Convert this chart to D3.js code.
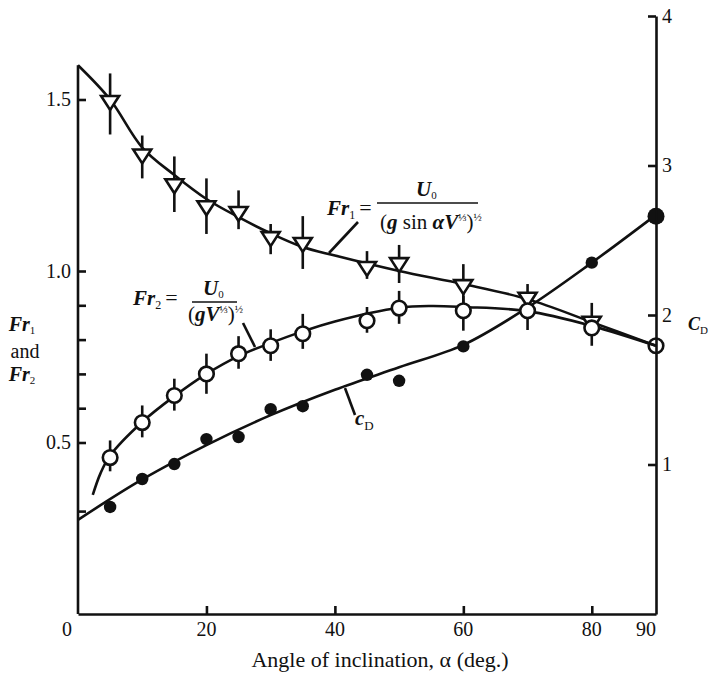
<!DOCTYPE html>
<html>
<head>
<meta charset="utf-8">
<script src="https://cdn.jsdelivr.net/npm/d3@7"></script>
<style>
  body { margin: 0; background: #fff; }
  svg { display: block; }
  text { font-family: "Liberation Serif", "DejaVu Serif", serif; fill: #111; }
</style>
</head>
<body>
<div id="chart"></div>
<script>
(function() {
    'use strict';

    // Fr1 points (open down triangles) with error bars
    var fr1Angle = [5, 10, 15, 20, 25, 30, 35, 45, 50, 60, 70, 80];
    var fr1Value = [1.49, 1.334, 1.247, 1.183, 1.166, 1.093, 1.076, 1.006, 1.017, 0.953, 0.916, 0.846];
    var fr1Hi    = [1.576, 1.395, 1.334, 1.27, 1.235, 1.137, 1.16, 1.058, 1.076, 1.02, 0.962, 0.907];
    var fr1Lo    = [1.398, 1.27, 1.172, 1.108, 1.122, 1.049, 1.006, 0.977, 0.965, 0.904, 0.916, 0.846];

    // Fr2 points (open circles) with error bars
    var fr2Angle = [5, 10, 15, 20, 25, 30, 35, 45, 50, 60, 70, 80, 90];
    var fr2Value = [0.456, 0.558, 0.637, 0.70, 0.759, 0.782, 0.817, 0.855, 0.892, 0.884, 0.884, 0.834, 0.782];
    var fr2Hi    = [0.506, 0.608, 0.686, 0.759, 0.81, 0.83, 0.875, 0.895, 0.942, 0.927, 0.884, 0.834, 0.782];
    var fr2Lo    = [0.416, 0.515, 0.593, 0.642, 0.715, 0.738, 0.773, 0.82, 0.846, 0.826, 0.828, 0.782, 0.782];

    // drag coefficient points (filled dots), right axis
    var cdAngle = [5, 10, 15, 20, 25, 30, 35, 45, 50, 60, 80, 90];
    var cdValue = [0.716, 0.903, 1.003, 1.17, 1.184, 1.37, 1.39, 1.60, 1.56, 1.79, 2.35, 2.66];

    // hand drawn fit curves
    var fr1FitAngle = [0, 5, 10, 15, 20, 25, 30, 35, 40, 50, 60, 70, 80, 90];
    var fr1Fit      = [1.60, 1.50, 1.36, 1.28, 1.21, 1.157, 1.11, 1.07, 1.045, 1.0, 0.962, 0.918, 0.851, 0.782];
    var fr2FitAngle = [2.3, 3.5, 5, 10, 15, 20, 25, 30, 35, 40, 50, 55, 60, 70, 80, 90];
    var fr2Fit      = [0.347, 0.41, 0.462, 0.56, 0.635, 0.70, 0.752, 0.79, 0.824, 0.853, 0.893, 0.898, 0.895, 0.883, 0.84, 0.782];
    var cdFitAngle  = [0, 10, 20, 30, 40, 50, 60, 70, 80, 90];
    var cdFit       = [0.63, 0.90, 1.13, 1.33, 1.50, 1.65, 1.80, 2.05, 2.35, 2.67];

    var xTicks = [20, 40, 60, 80];
    var xTickLabels = [0, 20, 40, 60, 80, 90];
    var frTicks = [0.3, 0.5, 0.6, 0.7, 0.8, 0.9, 1.0, 1.5];
    var frTickLabels = [0.5, 1.0, 1.5];
    var cdTicks = [1, 2, 3, 4];

    var width = 715, height = 680;
    var strokeW = 2.6;

    var x = d3.scaleLinear().domain([0, 90]).range([78, 656]);
    var yFr = d3.scaleLinear().domain([0, 1.6]).range([614, 65.2]);
    var yCd = d3.scaleLinear().domain([0, 4]).range([614, 16]);

    var svg = d3.select("#chart").append("svg")
        .attr("width", width)
        .attr("height", height);

    function zip(a, b, c, d) {
        return a.map(function(v, i) {
            return {a: v, v: b[i], hi: c ? c[i] : null, lo: d ? d[i] : null};
        });
    }

    var fr1 = zip(fr1Angle, fr1Value, fr1Hi, fr1Lo);
    var fr2 = zip(fr2Angle, fr2Value, fr2Hi, fr2Lo);
    var cd = zip(cdAngle, cdValue);

    // error bars
    function errorBars(data, cls) {
        svg.append("g").attr("class", cls)
            .selectAll("line")
            .data(data.filter(d => d.hi > d.lo))
            .enter().append("line")
            .attr("x1", d => x(d.a))
            .attr("x2", d => x(d.a))
            .attr("y1", d => yFr(d.hi))
            .attr("y2", d => yFr(d.lo))
            .attr("stroke", "#111")
            .attr("stroke-width", strokeW);
    }
    errorBars(fr1, "err-fr1");
    errorBars(fr2, "err-fr2");

    // fit curves
    function fitLine(xs, ys, yScale) {
        var line = d3.line()
            .x(d => x(d[0]))
            .y(d => yScale(d[1]))
            .curve(d3.curveCatmullRom.alpha(0.5));
        svg.append("path")
            .datum(xs.map((v, i) => [v, ys[i]]))
            .attr("d", line)
            .attr("fill", "none")
            .attr("stroke", "#111")
            .attr("stroke-width", strokeW);
    }
    fitLine(fr1FitAngle, fr1Fit, yFr);
    fitLine(fr2FitAngle, fr2Fit, yFr);
    fitLine(cdFitAngle, cdFit, yCd);

    // axes
    var leftAxis = d3.axisLeft(yFr)
        .tickValues(frTicks)
        .tickSizeInner(-8)
        .tickSizeOuter(0)
        .tickPadding(7)
        .tickFormat(d => frTickLabels.indexOf(d) >= 0 ? d3.format(".1f")(d) : "");

    var bottomAxis = d3.axisBottom(x)
        .tickValues(xTicks)
        .tickSizeInner(-8)
        .tickSizeOuter(0)
        .tickFormat("");

    var rightAxis = d3.axisRight(yCd)
        .tickValues(cdTicks)
        .tickSizeInner(-8)
        .tickSizeOuter(0)
        .tickPadding(6)
        .tickFormat(d3.format("d"));

    var gl = svg.append("g")
        .attr("class", "y-axis")
        .attr("transform", "translate(" + x(0) + ",0)")
        .call(leftAxis);

    var gb = svg.append("g")
        .attr("class", "x-axis")
        .attr("transform", "translate(0," + yFr(0) + ")")
        .call(bottomAxis);

    svg.selectAll(".x-label")
        .data(xTickLabels)
        .enter().append("text")
        .attr("class", "x-label")
        .attr("x", d => x(d) + (d === 0 ? -11 : (d === 90 ? -10 : 0)))
        .attr("y", 636)
        .attr("text-anchor", "middle")
        .style("font-size", "20px")
        .text(d => d);

    [gl, gb].forEach(function(g) {
        g.select(".domain").attr("stroke", "#111").attr("stroke-width", strokeW);
        g.selectAll(".tick line").attr("stroke", "#111").attr("stroke-width", strokeW);
        g.selectAll(".tick text").style("font-size", "20px")
            .style("font-family", "Liberation Serif, serif").attr("fill", "#111");
    });
    gl.select(".domain").attr("d", "M0," + yFr(0) + "V" + yFr(1.6));

    // markers
    svg.append("g").selectAll("path")
        .data(fr1)
        .enter().append("path")
        .attr("transform", d => "translate(" + x(d.a) + "," + yFr(d.v) + ")")
        .attr("d", "M-9,-7L9,-7L0,7Z")
        .attr("fill", "#fff")
        .attr("stroke", "#111")
        .attr("stroke-width", strokeW)
        .attr("stroke-linejoin", "miter");

    svg.append("g").selectAll("circle")
        .data(fr2)
        .enter().append("circle")
        .attr("cx", d => x(d.a))
        .attr("cy", d => yFr(d.v))
        .attr("r", 7.3)
        .attr("fill", d => d.a === 90 ? "none" : "#fff")
        .attr("stroke", "#111")
        .attr("stroke-width", strokeW);

    svg.append("g").selectAll("circle")
        .data(cd)
        .enter().append("circle")
        .attr("cx", d => x(d.a))
        .attr("cy", d => yCd(d.v))
        .attr("r", d => d.a === 90 ? 8.5 : 6.2)
        .attr("fill", "#111");

    var gr = svg.append("g")
        .attr("class", "cd-axis")
        .attr("transform", "translate(" + x(90) + ",0)")
        .call(rightAxis);
    gr.select(".domain").attr("stroke", "#111").attr("stroke-width", strokeW);
    gr.selectAll(".tick line").attr("stroke", "#111").attr("stroke-width", strokeW);
    gr.selectAll(".tick text").style("font-size", "20px")
        .style("font-family", "Liberation Serif, serif").attr("fill", "#111");

    // axis titles
    svg.append("text")
        .attr("x", 380)
        .attr("y", 667)
        .attr("text-anchor", "middle")
        .style("font-size", "22px")
        .text("Angle of inclination, \u03b1 (deg.)");

    var lab = svg.append("text")
        .attr("text-anchor", "middle")
        .style("font-size", "20px");
    lab.append("tspan").attr("x", 22).attr("y", 331)
        .style("font-style", "italic").style("font-weight", "bold").text("Fr");
    lab.append("tspan").attr("dy", 3).style("font-size", "11px").text("1");
    svg.append("text")
        .attr("x", 25).attr("y", 358)
        .attr("text-anchor", "middle")
        .style("font-size", "20px")
        .text("and");
    var lab2 = svg.append("text")
        .attr("text-anchor", "middle")
        .style("font-size", "20px");
    lab2.append("tspan").attr("x", 22).attr("y", 381)
        .style("font-style", "italic").style("font-weight", "bold").text("Fr");
    lab2.append("tspan").attr("dy", 3).style("font-size", "11px").text("2");

    var cdLab = svg.append("text").attr("x", 688).attr("y", 330)
        .style("font-size", "18px");
    cdLab.append("tspan").style("font-style", "italic").style("font-weight", "bold").text("C");
    cdLab.append("tspan").attr("dy", 4).style("font-size", "11px").text("D");

    // leader lines to the curves
    var leaders = [[329, 253, 358, 222], [243, 323, 255, 347], [345, 388, 355, 415]];
    svg.selectAll(".leader")
        .data(leaders)
        .enter().append("line")
        .attr("class", "leader")
        .attr("x1", d => d[0]).attr("y1", d => d[1])
        .attr("x2", d => d[2]).attr("y2", d => d[3])
        .attr("stroke", "#111")
        .attr("stroke-width", strokeW);

    function frac(x0, base, sub, xBar1, xBar2, yBar, xU, yU, xDen, yDen, denom) {
        var t = svg.append("text").attr("x", x0).attr("y", base).style("font-size", "21px");
        t.append("tspan").style("font-style", "italic").style("font-weight", "bold").text("Fr");
        t.append("tspan").attr("dy", 4).style("font-size", "12px").text(sub);
        t.append("tspan").attr("dy", -4).attr("dx", 4).style("font-size", "22px").text("=");

        svg.append("line")
            .attr("x1", xBar1).attr("x2", xBar2)
            .attr("y1", yBar).attr("y2", yBar)
            .attr("stroke", "#111").attr("stroke-width", 1.6);

        var u = svg.append("text").attr("x", xU).attr("y", yU).style("font-size", "21px");
        u.append("tspan").style("font-style", "italic").style("font-weight", "bold").text("U");
        u.append("tspan").attr("dy", 3).style("font-size", "11px").text("0");

        var dn = svg.append("text").attr("x", xDen).attr("y", yDen).style("font-size", "21px");
        denom.forEach(function(p) {
            var s = dn.append("tspan").text(p.t);
            if (p.it) s.style("font-style", "italic").style("font-weight", "bold");
            if (p.sup) s.style("font-size", "11px").attr("dy", p.dy);
            else if (p.dy) s.attr("dy", p.dy);
        });
    }

    frac(327, 215, "1", 377, 478, 203, 416, 196, 380, 229, [
        {t: "("}, {t: "g", it: true}, {t: " sin "}, {t: "\u03b1", it: true}, {t: "V", it: true},
        {t: "\u2153", sup: true, dy: -8}, {t: ")", dy: 8}, {t: "\u00bd", sup: true, dy: -8}
    ]);
    frac(133, 305, "2", 192, 237, 302, 203, 295, 188, 321, [
        {t: "("}, {t: "g", it: true}, {t: "V", it: true},
        {t: "\u2153", sup: true, dy: -8}, {t: ")", dy: 8}, {t: "\u00bd", sup: true, dy: -8}
    ]);

    var cdt = svg.append("text").attr("x", 355).attr("y", 425).style("font-size", "21px");
    cdt.append("tspan").style("font-style", "italic").style("font-weight", "bold").text("c");
    cdt.append("tspan").attr("dy", 5).style("font-size", "13px").text("D");
})();
</script>
</body>
</html>
